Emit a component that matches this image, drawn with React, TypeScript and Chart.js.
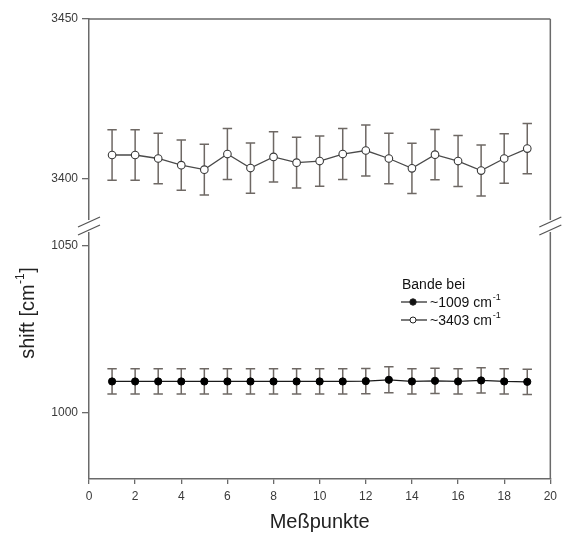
import React, { useEffect, useRef } from 'react';
import { Chart, registerables } from 'chart.js';

Chart.register(...registerables);

// ---- data ----
const measurePoints = [1, 2, 3, 4, 5, 6, 7, 8, 9, 10, 11, 12, 13, 14, 15, 16, 17, 18, 19];
const band3403 = [3407.3, 3407.3, 3406.2, 3404.1, 3402.7, 3407.6, 3403.2, 3406.7, 3404.9, 3405.4, 3407.6, 3408.7, 3406.2, 3403.1, 3407.4, 3405.4, 3402.4, 3406.2, 3409.3];
const err3403 = [7.9, 7.9, 7.9, 7.9, 8.0, 8.0, 7.9, 7.9, 8.0, 7.9, 8.0, 8.0, 7.9, 7.9, 7.9, 8.0, 8.0, 7.8, 7.9];
const band1009 = [1009.3, 1009.3, 1009.3, 1009.3, 1009.3, 1009.3, 1009.3, 1009.3, 1009.3, 1009.3, 1009.3, 1009.4, 1009.8, 1009.3, 1009.5, 1009.3, 1009.6, 1009.3, 1009.2];
const err1009 = [3.8, 3.8, 3.8, 3.8, 3.8, 3.8, 3.8, 3.8, 3.8, 3.8, 3.8, 3.8, 3.9, 3.8, 3.8, 3.8, 3.8, 3.8, 3.8];
const xTicks = [0, 2, 4, 6, 8, 10, 12, 14, 16, 18, 20];
const topTicks = [3400, 3450];
const bottomTicks = [1000, 1050];
const legendTitle = 'Bande bei';
const legendLabels = ['~1009 cm', '~3403 cm'];
const xTitle = 'Meßpunkte';
const yTitle = 'shift [cm';

const AXIS = '#6a6a6a';
const TEXT = '#3a3a3a';
const ERR = '#6e6864';
const FONT = 'Arial, "Liberation Sans", sans-serif';

const errorBarPlugin = {
  id: 'errorBars',
  beforeDatasetsDraw(chart: any) {
    const ctx = chart.ctx;
    const xs = chart.scales.x;
    const sets = [
      { axis: 'yBot', vals: band1009, errs: err1009 },
      { axis: 'yTop', vals: band3403, errs: err3403 },
    ];
    ctx.save();
    ctx.strokeStyle = ERR;
    ctx.lineWidth = 1.5;
    sets.forEach((s) => {
      const ys = chart.scales[s.axis];
      measurePoints.forEach((xv, i) => {
        const px = xs.getPixelForValue(xv);
        const top = ys.getPixelForValue(s.vals[i] + s.errs[i]);
        const bot = ys.getPixelForValue(s.vals[i] - s.errs[i]);
        ctx.beginPath();
        ctx.moveTo(px, top);
        ctx.lineTo(px, bot);
        ctx.moveTo(px - 4.7, top);
        ctx.lineTo(px + 4.7, top);
        ctx.moveTo(px - 4.7, bot);
        ctx.lineTo(px + 4.7, bot);
        ctx.stroke();
      });
    });
    ctx.restore();
  },
};

const framePlugin = {
  id: 'frame',
  afterDraw(chart: any) {
    const ctx = chart.ctx;
    const a = chart.chartArea;
    const b = Math.min(chart.scales.yTop.bottom, chart.scales.yBot.bottom);
    ctx.save();
    // top and right border
    ctx.strokeStyle = AXIS;
    ctx.lineWidth = 1.5;
    ctx.beginPath();
    ctx.moveTo(a.left, a.top);
    ctx.lineTo(a.right, a.top);
    ctx.moveTo(a.right, a.top);
    ctx.lineTo(a.right, a.bottom);
    ctx.stroke();
    // axis breaks
    [a.left, a.right].forEach((x) => {
      ctx.fillStyle = '#ffffff';
      ctx.fillRect(x - 3, b - 6, 6, 12);
      ctx.strokeStyle = '#555';
      ctx.lineWidth = 1.3;
      ctx.beginPath();
      ctx.moveTo(x - 11, b + 1);
      ctx.lineTo(x + 11, b - 9);
      ctx.moveTo(x - 11, b + 9);
      ctx.lineTo(x + 11, b - 1);
      ctx.stroke();
    });

    // legend
    ctx.fillStyle = '#111';
    ctx.textBaseline = 'middle';
    ctx.font = `14px ${FONT}`;
    ctx.fillText(legendTitle, 402, 285);
    const rows = [
      { y: 302, fill: '#111' },
      { y: 320, fill: '#ffffff' },
    ];
    rows.forEach((r, i) => {
      ctx.strokeStyle = '#222';
      ctx.lineWidth = 1.2;
      ctx.beginPath();
      ctx.moveTo(401, r.y);
      ctx.lineTo(427, r.y);
      ctx.stroke();
      ctx.beginPath();
      ctx.arc(413, r.y, i === 0 ? 3.2 : 3.0, 0, Math.PI * 2);
      ctx.fillStyle = r.fill;
      ctx.fill();
      ctx.lineWidth = 1;
      ctx.stroke();
      ctx.fillStyle = '#111';
      ctx.font = `14px ${FONT}`;
      ctx.fillText(legendLabels[i], 430, r.y + 1);
      const w = ctx.measureText(legendLabels[i]).width;
      ctx.font = `9px ${FONT}`;
      ctx.fillText('-1', 431 + w, r.y - 4);
    });

    // x title
    ctx.fillStyle = '#222';
    ctx.textAlign = 'center';
    ctx.font = `20px ${FONT}`;
    ctx.fillText(xTitle, (a.left + a.right) / 2, 522);

    // y title rotated with superscript
    ctx.save();
    ctx.translate(28, 313);
    ctx.rotate(-Math.PI / 2);
    ctx.textAlign = 'left';
    ctx.font = `20px ${FONT}`;
    const w1 = ctx.measureText(yTitle).width;
    ctx.font = `12px ${FONT}`;
    const w2 = ctx.measureText('-1').width;
    ctx.font = `20px ${FONT}`;
    const w3 = ctx.measureText(']').width;
    const total = w1 + w2 + 1 + w3;
    let sx = -total / 2;
    ctx.fillText(yTitle, sx, 0);
    sx += w1;
    ctx.font = `12px ${FONT}`;
    ctx.fillText('-1', sx + 0.5, -7);
    sx += w2 + 1;
    ctx.font = `20px ${FONT}`;
    ctx.fillText(']', sx, 0);
    ctx.restore();

    ctx.restore();
  },
};

export default function App() {
  const ref = useRef<HTMLCanvasElement | null>(null);

  useEffect(() => {
    if (!ref.current) return;
    const tickFont = { family: FONT, size: 12 };
    const plain = (v: any) => String(v);
    const chart = new Chart(ref.current, {
      type: 'line',
      data: {
        datasets: [
          {
            label: legendLabels[0],
            data: measurePoints.map((x, i) => ({ x, y: band1009[i] })),
            yAxisID: 'yBot',
            borderColor: '#1a1a1a',
            borderWidth: 1.3,
            pointRadius: 3.6,
            pointBackgroundColor: '#000',
            pointBorderColor: '#000',
            pointBorderWidth: 1,
            tension: 0,
          },
          {
            label: legendLabels[1],
            data: measurePoints.map((x, i) => ({ x, y: band3403[i] })),
            yAxisID: 'yTop',
            borderColor: '#4a4a4a',
            borderWidth: 1.3,
            pointRadius: 3.8,
            pointBackgroundColor: '#ffffff',
            pointBorderColor: '#3a3a3a',
            pointBorderWidth: 1.1,
            tension: 0,
          },
        ],
      },
      options: {
        responsive: false,
        animation: false,
        layout: { padding: { left: 0, right: 11, top: 19, bottom: 0 } },
        plugins: { legend: { display: false }, tooltip: { enabled: false } },
        scales: {
          x: {
            type: 'linear',
            min: 0,
            max: 20,
            afterBuildTicks: (s: any) => { s.ticks = xTicks.map((v) => ({ value: v })); },
            afterFit: (s: any) => { s.height = 64; },
            grid: { display: true, drawOnChartArea: false, drawTicks: true, tickLength: 5, color: AXIS, lineWidth: 1.3 },
            border: { display: true, color: AXIS, width: 1.5 },
            ticks: { color: TEXT, font: tickFont, padding: 5, maxRotation: 0, callback: plain },
          },
          yBot: {
            type: 'linear',
            position: 'left',
            stack: 'y',
            stackWeight: 253,
            min: 980,
            max: 1056,
            afterBuildTicks: (s: any) => { s.ticks = bottomTicks.map((v) => ({ value: v })); },
            afterFit: (s: any) => { s.width = 89; },
            grid: { display: true, drawOnChartArea: false, drawTicks: true, tickLength: 7, color: AXIS, lineWidth: 1.3 },
            border: { display: true, color: AXIS, width: 1.5 },
            ticks: { color: TEXT, font: tickFont, padding: 4, callback: plain },
          },
          yTop: {
            type: 'linear',
            position: 'left',
            stack: 'y',
            stackWeight: 207,
            min: 3385,
            max: 3450,
            afterBuildTicks: (s: any) => { s.ticks = topTicks.map((v) => ({ value: v })); },
            afterFit: (s: any) => { s.width = 89; },
            grid: { display: true, drawOnChartArea: false, drawTicks: true, tickLength: 7, color: AXIS, lineWidth: 1.3 },
            border: { display: true, color: AXIS, width: 1.5 },
            ticks: { color: TEXT, font: tickFont, padding: 4, callback: plain },
          },
        },
      },
      plugins: [errorBarPlugin, framePlugin],
    } as any);
    return () => chart.destroy();
  }, []);

  return (
    <div style={{ position: 'fixed', left: 0, top: 0, width: 562, height: 543, background: '#fff' }}>
      <canvas ref={ref} width={562} height={543} style={{ display: 'block', width: 562, height: 543 }} />
    </div>
  );
}
